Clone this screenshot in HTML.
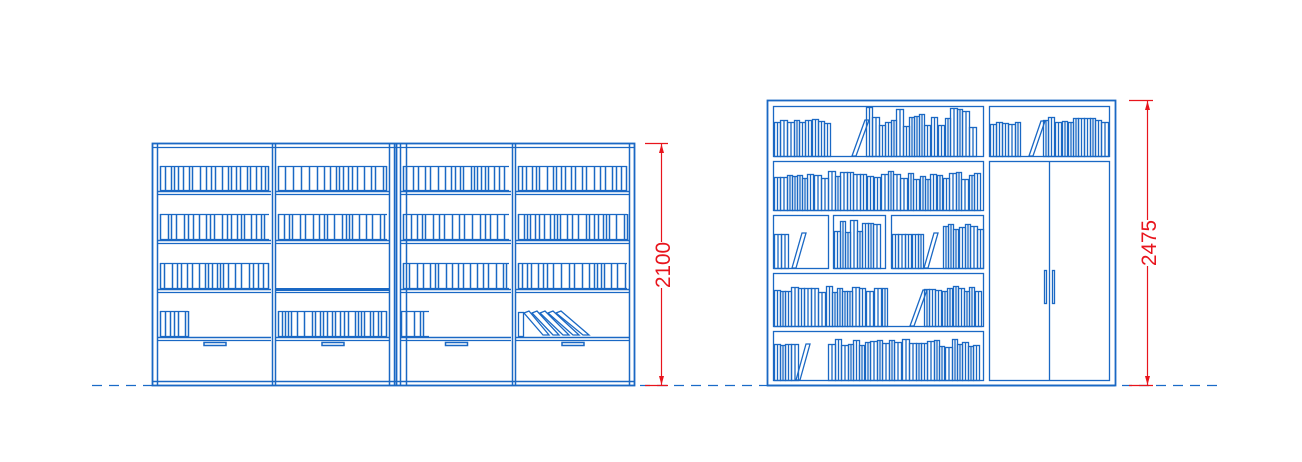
<!DOCTYPE html>
<html><head><meta charset="utf-8"><style>html,body{margin:0;padding:0;background:#fff}svg{display:block}</style></head>
<body>
<svg id="s" width="1302" height="462" viewBox="0 0 1302 462" xmlns="http://www.w3.org/2000/svg">
<g id="g" fill="none" stroke="#1a68c4" stroke-width="1.3"></g>
<g stroke="#1a6bc8" stroke-width="1.2" stroke-dasharray="10,7">
<line x1="92" y1="385.5" x2="152" y2="385.5"/><line x1="640" y1="385.5" x2="767" y2="385.5"/><line x1="1122" y1="385.5" x2="1218" y2="385.5"/>
</g>
<g stroke="#e8141c" stroke-width="1.2" fill="#e8141c">
<line x1="645" y1="143.5" x2="668" y2="143.5"/><line x1="645" y1="385.5" x2="668" y2="385.5"/>
<line x1="661.5" y1="144" x2="661.5" y2="242"/><line x1="661.5" y1="288" x2="661.5" y2="385"/>
<path d="M661.5 144 l-2.5 9 h5z M661.5 385 l-2.5 -9 h5z" stroke="none"/>
<line x1="1129" y1="100.5" x2="1153" y2="100.5"/><line x1="1129" y1="385.5" x2="1153" y2="385.5"/>
<line x1="1147.5" y1="101" x2="1147.5" y2="220"/><line x1="1147.5" y1="266" x2="1147.5" y2="385"/>
<path d="M1147.5 101 l-2.5 9 h5z M1147.5 385 l-2.5 -9 h5z" stroke="none"/>
</g>
<g fill="#e8141c" font-family="Liberation Sans, sans-serif" font-size="21">
<text transform="translate(670,288) rotate(-90)" textLength="46" lengthAdjust="spacingAndGlyphs">2100</text>
<text transform="translate(1156,266) rotate(-90)" textLength="46" lengthAdjust="spacingAndGlyphs">2475</text>
</g>
</svg>
<script>
var g=document.getElementById('g'),NS='http://www.w3.org/2000/svg';
function el(t,a){var e=document.createElementNS(NS,t);for(var k in a)e.setAttribute(k,a[k]);g.appendChild(e);return e;}
function R(x1,y1,x2,y2,w){var a={x:x1+.5,y:y1+.5,width:x2-x1,height:y2-y1};if(w)a['stroke-width']=w;el('rect',a);}
function L(x1,y1,x2,y2,w){var a={x1:x1,y1:y1,x2:x2,y2:y2};if(w)a['stroke-width']=w;el('line',a);}
var seed=7;function rnd(){seed=(seed*9301+49297)%233280;return seed/233280;}
function flat(x1,x2,yt,yb){L(x1,yt+.5,x2,yt+.5);L(x1,yb-.5,x2,yb-.5);var x=x1;while(x<=x2){L(x+.5,yt,x+.5,yb,1.5);x+=3+Math.floor(rnd()*6);}}
function books(x1,x2,yb,h,v){var x=x1;while(x+5<=x2){var w=5+Math.floor(rnd()*3);var hh=h+Math.floor((rnd()-.4)*v);R(x,yb-hh,x+w,yb);L(x+w/2+.5,yb-hh,x+w/2+.5,yb);x+=w+(rnd()<.15?1:0);}}
function lean(x,yb,h,dx){el('path',{d:'M'+x+' '+yb+' L'+(x+dx)+' '+(yb-h)+' L'+(x+dx+4)+' '+(yb-h)+' L'+(x+4)+' '+yb+'Z'});}
R(152,143,634,385,1.8);L(152,147.5,634,147.5);
[157,272,275,389,394,400,406,512,515,629].forEach(function(x){L(x+.5,144,x+.5,385,1.5)});
L(396.5,143,396.5,385,1.8);L(152,381.5,634,381.5,1.5);
var bays=[[158,271],[276,389],[401,511],[516,629]];
bays.forEach(function(b,i){
 [191,240,289,337].forEach(function(y){L(b[0],y+.5,b[1],y+.5,1.5);L(b[0],y+3.5,b[1],y+3.5,1.2)});
 flat(b[0]+2,b[1]-2,166,191);flat(b[0]+2,b[1]-2,214,240);
 if(i!=1)flat(b[0]+2,b[1]-2,263,289);
 if(i==1)flat(b[0]+2,b[1]-2,311,337);
 if(i==0)flat(160,188,311,337);
 if(i==2)flat(401,429,311,337);
 var cx=(b[0]+b[1])/2;R(cx-11,342,cx+11,345,1.5);
});
L(276,289.5,389,289.5,3);
R(518,312,523,336);for(var k=0;k<5;k++)el('path',{d:'M'+(524+k*8)+' 313 l5 -2 l'+(20+k*2)+' 24 l-6 0 z'});
R(767,100,1115,385,1.8);
R(773,106,983,156);R(989,106,1109,156);R(773,161,983,210);
R(773,215,828,268);R(833,215,885,268);R(891,215,983,268);
R(773,273,983,326);R(773,331,983,380);R(989,161,1109,380);
L(1049.5,161,1049.5,380);R(1044,270,1046,303);R(1052,270,1054,303);
L(767,385.5,1115,385.5,1.8);
books(774,832,156,35,6);lean(852,156,36,13);books(866,980,156,38,22);
books(990,1024,156,35,6);lean(1029,156,35,12);books(1043,1106,156,36,6);
books(774,981,210,35,8);
books(774,792,268,35,2);lean(792,268,35,10);
books(834,884,268,38,18);
books(892,924,268,35,2);lean(924,268,35,10);books(943,982,268,42,10);
books(774,891,326,37,6);lean(910,326,36,13);books(924,981,326,37,6);
books(774,796,380,36,2);lean(796,380,36,10);books(828,980,380,37,8);
</script>
</body></html>
